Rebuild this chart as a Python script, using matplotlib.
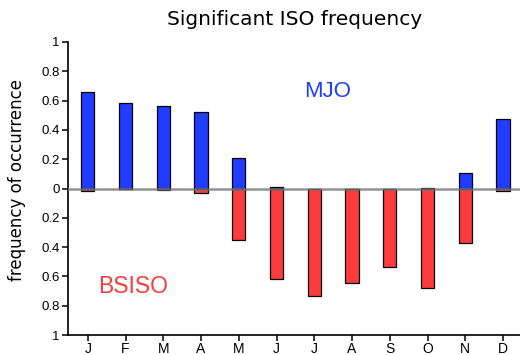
import numpy as np
import matplotlib
matplotlib.use("Agg")
import matplotlib.pyplot as plt

# monthly frequency of significant ISO
months = ["J", "F", "M", "A", "M", "J", "J", "A", "S", "O", "N", "D"]
mjo = [0.66, 0.585, 0.56, 0.525, 0.21, 0.01, 0.0, 0.0, 0.0, 0.005, 0.107, 0.472]
bsiso = [0.016, 0.0, 0.01, 0.03, 0.35, 0.62, 0.735, 0.645, 0.538, 0.68, 0.37, 0.018]

blue = "#1f3cff"
red = "#fc3c3c"

plt.rcParams["font.family"] = ["Liberation Sans", "DejaVu Sans"]

fig = plt.figure(figsize=(5.2, 3.55), dpi=100)
ax = fig.add_axes([0.131, 0.056, 0.869, 0.826])

x = np.arange(len(months))
ax.bar(x, mjo, width=0.35, color=blue, edgecolor="black", linewidth=0.9, zorder=2)
ax.bar(x, -np.array(bsiso), width=0.35, color=red, edgecolor="black", linewidth=0.9, zorder=2)
ax.axhline(0, color="#777777", linewidth=1.8, alpha=0.8, zorder=3)

ax.set_xlim(-0.52, 11.45)
ax.set_ylim(-1, 1)
ax.set_xticks(x)
ax.set_xticklabels(months, fontsize=10)
yt = np.linspace(-1, 1, 11)
ax.set_yticks(yt)
ax.set_yticklabels(["%g" % abs(round(v, 1)) for v in yt], fontsize=9.5)

for s in ["top", "right"]:
    ax.spines[s].set_visible(False)
ax.spines["left"].set_linewidth(1.2)
ax.spines["bottom"].set_linewidth(1.2)
ax.tick_params(direction="out", length=4, width=1.1, pad=2)
ax.tick_params(axis="x", pad=1)

ax.text(6.36, 0.66, "MJO", color=blue, fontsize=16, ha="center", va="center")
ax.text(1.21, -0.67, "BSISO", color=red, fontsize=16.5, ha="center", va="center")

ax.set_ylabel("frequency of occurrence", fontsize=12, family="DejaVu Sans")
ax.yaxis.set_label_coords(-0.093, 0.53)
fig.text(0.567, 0.945, "Significant ISO frequency", fontsize=14.5,
         family="DejaVu Sans", ha="center", va="center")

fig.savefig("out.png", dpi=100)
